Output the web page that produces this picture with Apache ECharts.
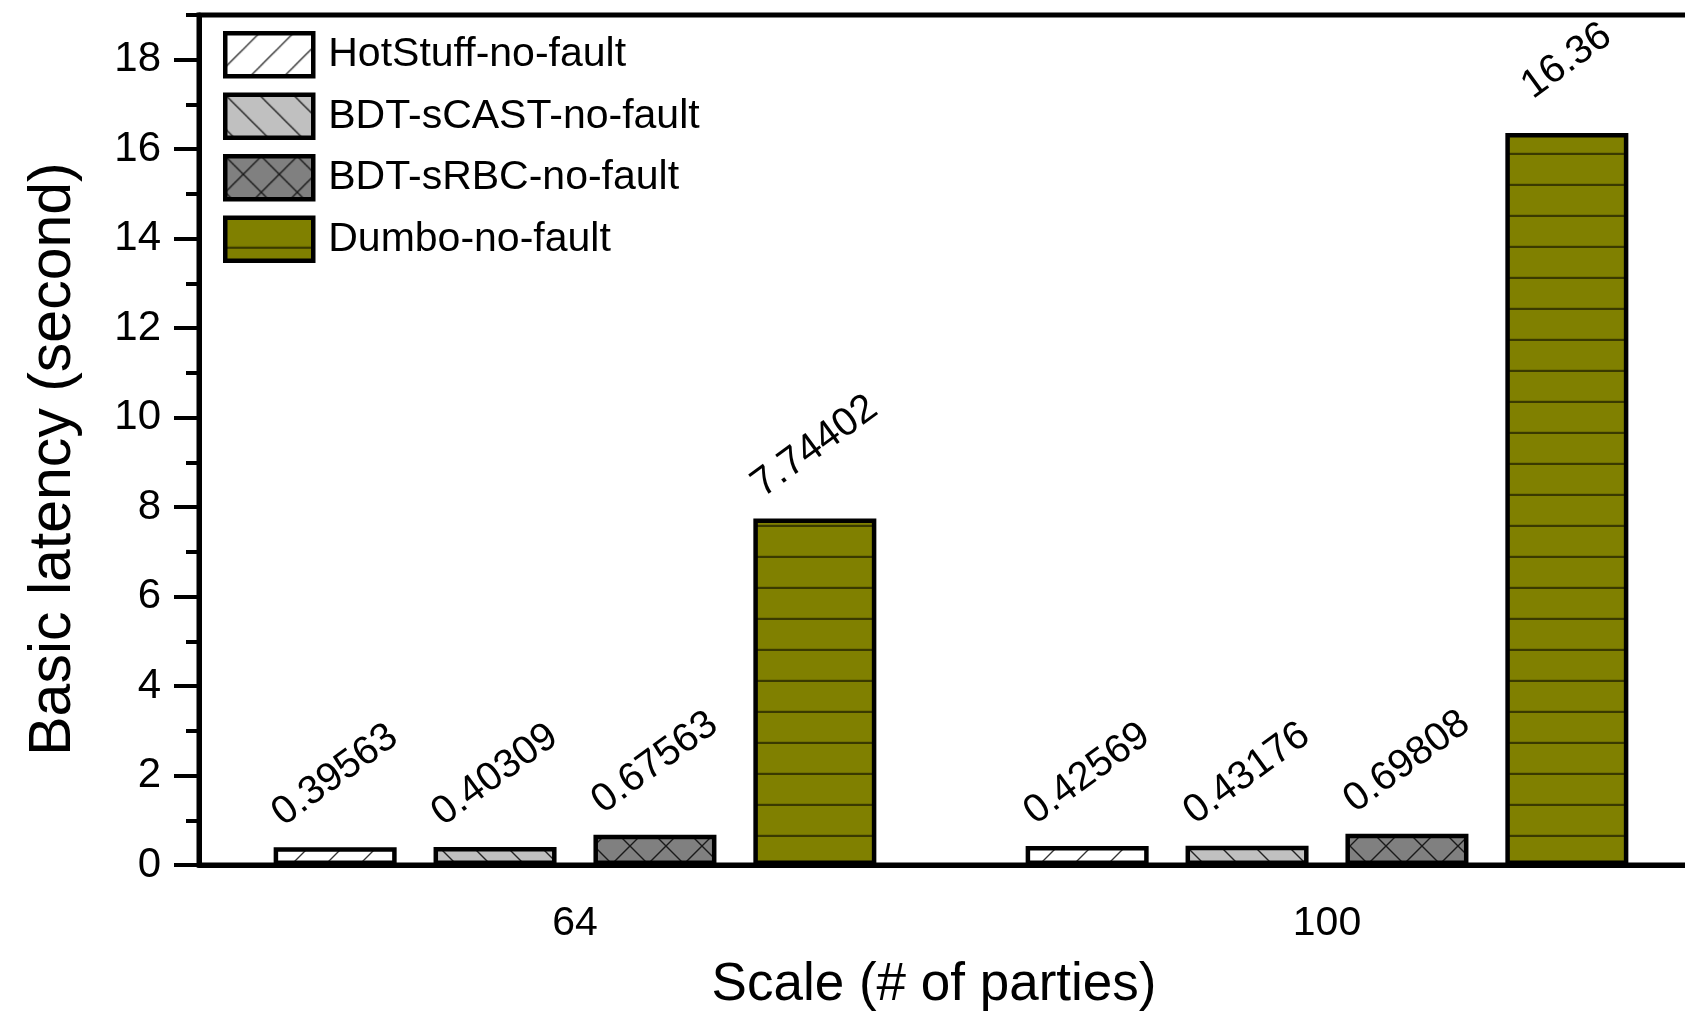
<!DOCTYPE html>
<html>
<head>
<meta charset="utf-8">
<script src="https://cdn.jsdelivr.net/npm/echarts@6/dist/echarts.min.js"></script>
<style>
  html, body { margin: 0; padding: 0; background: #fff; }
  #chart { width: 1685px; height: 1020px; }
</style>
</head>
<body>
<div id="chart"></div>
<script>
// Scale (number of parties) on the x axis
const scales = ['64', '100'];

// Basic latency in seconds, per protocol
const hotStuff = [0.39563, 0.42569];
const bdtSCast = [0.40309, 0.43176];
const bdtSRbc = [0.67563, 0.69808];
const dumbo = [7.74402, 16.36];

const seriesNames = ['HotStuff-no-fault', 'BDT-sCAST-no-fault', 'BDT-sRBC-no-fault', 'Dumbo-no-fault'];

// Y axis range and labelled ticks
const yMax = 19;
const yMajorTicks = [0, 2, 4, 6, 8, 10, 12, 14, 16, 18];

const FONT = '"Liberation Sans", Arial, Helvetica, sans-serif';

// Tileable hatch fills for the bars
function makePattern(bg, size, draw) {
  const c = document.createElement('canvas');
  c.width = size; c.height = size;
  const ctx = c.getContext('2d');
  ctx.fillStyle = bg;
  ctx.fillRect(0, 0, size, size);
  draw(ctx, size);
  return { image: c, repeat: 'repeat' };
}
function slash(ctx, s) {
  ctx.beginPath();
  ctx.moveTo(-2, s + 2); ctx.lineTo(s + 2, -2);
  ctx.moveTo(-2, 2); ctx.lineTo(2, -2);
  ctx.moveTo(s - 2, s + 2); ctx.lineTo(s + 2, s - 2);
  ctx.stroke();
}
function backslash(ctx, s) {
  ctx.beginPath();
  ctx.moveTo(-2, -2); ctx.lineTo(s + 2, s + 2);
  ctx.moveTo(s - 2, -2); ctx.lineTo(s + 2, 2);
  ctx.moveTo(-2, s - 2); ctx.lineTo(2, s + 2);
  ctx.stroke();
}

const patHot = makePattern('#ffffff', 34, (ctx, s) => {
  ctx.strokeStyle = '#333'; ctx.lineWidth = 1.4; slash(ctx, s);
});
const patCast = makePattern('#c0c0c0', 34, (ctx, s) => {
  ctx.strokeStyle = '#222'; ctx.lineWidth = 1.4; backslash(ctx, s);
});
const patRbc = makePattern('#808080', 36, (ctx, s) => {
  ctx.strokeStyle = '#1a1a1a'; ctx.lineWidth = 1.4; slash(ctx, s); backslash(ctx, s);
});
const patDumbo = makePattern('#808000', 31, (ctx, s) => {
  ctx.strokeStyle = '#3a3a00'; ctx.lineWidth = 2.4;
  ctx.beginPath(); ctx.moveTo(0, s - 1); ctx.lineTo(s, s - 1); ctx.stroke();
});

const fills = [patHot, patCast, patRbc, patDumbo];
const values = [hotStuff, bdtSCast, bdtSRbc, dumbo];

const chart = echarts.init(document.getElementById('chart'), null, { renderer: 'canvas' });

const series = seriesNames.map((name, i) => ({
  name: name,
  type: 'bar',
  data: values[i],
  barWidth: 123,
  barGap: '30%',
  itemStyle: { color: fills[i], borderColor: '#000', borderWidth: 4.5 },
  label: {
    show: true,
    position: 'top',
    distance: 72,
    rotate: 36,
    align: 'center',
    verticalAlign: 'middle',
    fontFamily: FONT,
    fontSize: 40,
    color: '#000',
    formatter: p => String(p.value)
  }
}));

chart.setOption({
  animation: false,
  backgroundColor: '#fff',
  textStyle: { fontFamily: FONT, color: '#000' },
  grid: {
    left: 199, top: 15, width: 1504, height: 850,
    containLabel: false,
    outerBoundsMode: 'none',
    show: true, borderColor: '#000', borderWidth: 5, backgroundColor: 'transparent'
  },
  legend: {
    orient: 'vertical',
    left: 218, top: 26,
    itemWidth: 88, itemHeight: 43, itemGap: 14,
    icon: 'rect',
    itemStyle: { borderColor: '#000', borderWidth: 4.5 },
    textStyle: { fontFamily: FONT, fontSize: 41, lineHeight: 43, color: '#000', padding: [0, 0, 0, 10] },
    data: seriesNames
  },
  xAxis: {
    type: 'category',
    data: scales,
    name: 'Scale (# of parties)',
    nameLocation: 'middle',
    nameGap: 94,
    nameTextStyle: { fontFamily: FONT, fontSize: 53, color: '#000', padding: [0, 34, 0, 0] },
    axisLine: { lineStyle: { color: '#000', width: 5 } },
    axisTick: { alignWithLabel: true, length: 22, lineStyle: { color: '#000', width: 4 } },
    axisLabel: { fontFamily: FONT, fontSize: 41, color: '#000', margin: 38 },
    splitLine: { show: false }
  },
  yAxis: [
    {
      type: 'value',
      min: 0, max: yMax, interval: 1,
      name: 'Basic latency (second)',
      nameLocation: 'middle',
      nameGap: 116,
      nameTextStyle: { fontFamily: FONT, fontSize: 59, color: '#000', padding: [0, 0, 0, -38] },
      axisLine: { show: true, lineStyle: { color: '#000', width: 5 } },
      axisTick: { show: true, length: 13, lineStyle: { color: '#000', width: 4 } },
      axisLabel: {
        fontFamily: FONT, fontSize: 42, color: '#000', margin: 38,
        formatter: v => (yMajorTicks.indexOf(v) >= 0 ? String(v) : '')
      },
      splitLine: { show: false }
    },
    {
      type: 'value',
      position: 'left',
      min: 0, max: yMax, interval: 2,
      axisLine: { show: false },
      axisTick: { show: true, length: 25, customValues: yMajorTicks, lineStyle: { color: '#000', width: 4 } },
      axisLabel: { show: false },
      splitLine: { show: false }
    }
  ],
  series: series
});
</script>
</body>
</html>
